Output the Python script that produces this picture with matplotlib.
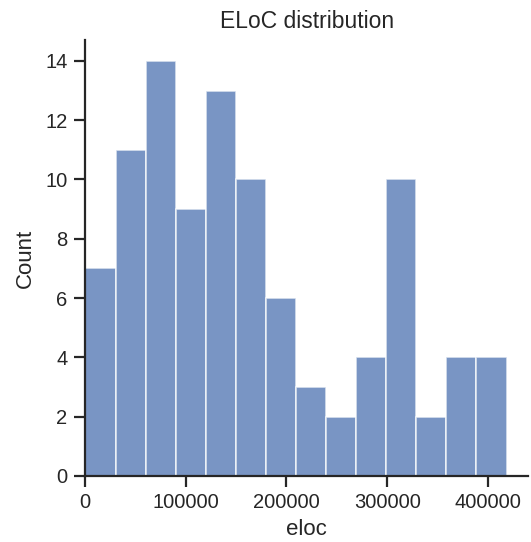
import numpy as np
import matplotlib
matplotlib.use("Agg")
import matplotlib.pyplot as plt
import seaborn as sns

# bin edges and counts
bin_start = 500
bin_width = 29850
counts = [7, 11, 14, 9, 13, 10, 6, 3, 2, 4, 10, 2, 4, 4]

edges = bin_start + bin_width * np.arange(len(counts) + 1)

sns.set_theme(style="ticks")
plt.rcParams['font.family'] = ['Liberation Sans', 'DejaVu Sans']

fig = plt.figure(figsize=(5.31, 5.42), dpi=100)
ax = fig.add_axes([0.16, 0.122, 0.835, 0.804])

ax.bar(edges[:-1], counts, width=bin_width, align='edge',
       color='#4c72b0', alpha=0.75, edgecolor='white', linewidth=1.2)

ax.set_xlim(0, 440000)
ax.set_ylim(0, 14.7)
ax.set_xticks([0, 100000, 200000, 300000, 400000])
ax.set_xticklabels(['0', '100000', '200000', '300000', '400000'])
ax.set_yticks(range(0, 15, 2))
ax.tick_params(labelsize=14.5, length=8, width=1.6, pad=4.5, colors='#262626')
for s in ax.spines.values():
    s.set_linewidth(1.6)
ax.set_xlabel('eloc', fontsize=16, labelpad=5)
ax.set_ylabel('Count', fontsize=16, labelpad=7)
ax.set_title('ELoC distribution', fontsize=16.5, pad=9)
sns.despine(ax=ax)

fig.savefig('out.png', dpi=100)
